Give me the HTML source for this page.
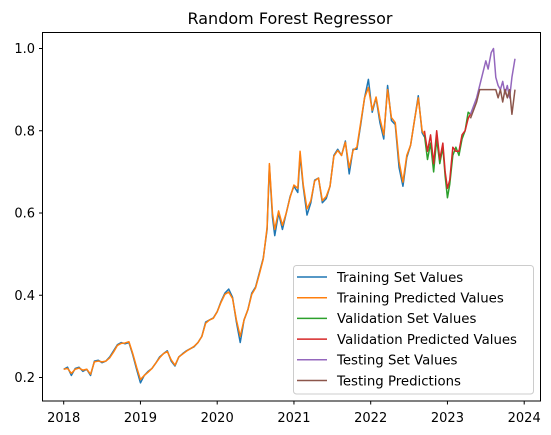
<!DOCTYPE html>
<html><head><meta charset="utf-8"><style>
html,body{margin:0;padding:0;background:#fff;}
svg{display:block;font-family:"DejaVu Sans","Liberation Sans",sans-serif;}
</style></head><body>
<svg id="chart" width="551" height="435" viewBox="0 0 551 435">
<text x="290" y="24" text-anchor="middle" font-size="16" fill="#000">Random Forest Regressor</text>
<g id="plot"></g>
<rect x="42.5" y="32.5" width="498" height="368.5" fill="none" stroke="#000" stroke-width="1"/>
<g id="xticks"></g>
<g id="yticks"></g>
<g>
<rect x="293.5" y="265.5" width="240" height="128.5" rx="3" fill="#fff" fill-opacity="0.8" stroke="#ccc"/>
<g id="legend-items"></g>
</g>
</svg>
<script>
const trainDates=[2018.00,2018.05,2018.10,2018.15,2018.20,2018.25,2018.30,2018.35,2018.40,2018.45,2018.50,2018.55,2018.60,2018.65,2018.70,2018.75,2018.80,2018.85,2018.90,2018.95,2019.00,2019.05,2019.10,2019.15,2019.20,2019.25,2019.30,2019.35,2019.40,2019.45,2019.50,2019.55,2019.60,2019.65,2019.70,2019.75,2019.80,2019.85,2019.90,2019.95,2020.00,2020.05,2020.10,2020.15,2020.20,2020.25,2020.30,2020.35,2020.40,2020.45,2020.50,2020.55,2020.60,2020.65,2020.68,2020.72,2020.75,2020.80,2020.85,2020.90,2020.95,2021.00,2021.05,2021.08,2021.12,2021.17,2021.22,2021.27,2021.32,2021.37,2021.42,2021.47,2021.52,2021.57,2021.62,2021.67,2021.72,2021.77,2021.82,2021.87,2021.92,2021.97,2022.02,2022.07,2022.12,2022.17,2022.22,2022.27,2022.32,2022.37,2022.42,2022.47,2022.52,2022.57,2022.62,2022.67,2022.70];
const trainValues=[0.220,0.225,0.205,0.222,0.225,0.215,0.220,0.205,0.240,0.242,0.236,0.240,0.250,0.265,0.280,0.285,0.282,0.285,0.255,0.220,0.187,0.205,0.215,0.222,0.235,0.250,0.258,0.265,0.240,0.228,0.250,0.258,0.265,0.270,0.275,0.285,0.300,0.335,0.340,0.345,0.360,0.385,0.405,0.415,0.395,0.335,0.285,0.340,0.365,0.405,0.420,0.455,0.490,0.560,0.715,0.590,0.545,0.600,0.560,0.600,0.640,0.665,0.650,0.740,0.665,0.595,0.625,0.680,0.685,0.625,0.635,0.665,0.740,0.755,0.740,0.775,0.695,0.755,0.755,0.815,0.880,0.925,0.845,0.880,0.820,0.780,0.910,0.825,0.815,0.710,0.665,0.735,0.765,0.825,0.885,0.795,0.785];
const trainPred=[0.220,0.222,0.210,0.220,0.223,0.218,0.220,0.208,0.238,0.240,0.238,0.240,0.248,0.262,0.278,0.283,0.284,0.287,0.258,0.225,0.195,0.205,0.213,0.222,0.235,0.248,0.258,0.263,0.243,0.230,0.250,0.257,0.264,0.270,0.276,0.285,0.300,0.332,0.340,0.344,0.360,0.383,0.402,0.408,0.392,0.340,0.300,0.340,0.365,0.402,0.418,0.452,0.488,0.565,0.720,0.600,0.560,0.605,0.570,0.600,0.638,0.668,0.660,0.750,0.670,0.610,0.630,0.678,0.685,0.630,0.640,0.665,0.738,0.752,0.740,0.772,0.710,0.752,0.760,0.820,0.880,0.905,0.850,0.882,0.830,0.790,0.900,0.832,0.820,0.725,0.675,0.740,0.765,0.825,0.880,0.800,0.790];
const valDates=[2022.70,2022.74,2022.78,2022.82,2022.86,2022.90,2022.94,2022.97,2023.00,2023.03,2023.07,2023.11,2023.15,2023.19,2023.23,2023.27,2023.30];
const valValues=[0.79,0.73,0.77,0.70,0.78,0.72,0.76,0.69,0.637,0.67,0.74,0.76,0.74,0.78,0.80,0.845,0.84];
const valPred=[0.80,0.75,0.79,0.72,0.80,0.73,0.77,0.70,0.66,0.68,0.76,0.75,0.75,0.79,0.80,0.83,0.84];
const testDates=[2023.30,2023.34,2023.38,2023.42,2023.46,2023.50,2023.53,2023.57,2023.60,2023.63,2023.66,2023.69,2023.72,2023.75,2023.78,2023.81,2023.84,2023.88];
const testValues=[0.84,0.86,0.88,0.91,0.94,0.97,0.95,0.99,1.0,0.93,0.91,0.90,0.92,0.89,0.91,0.88,0.93,0.975];
const testPred=[0.83,0.85,0.87,0.90,0.90,0.90,0.90,0.90,0.90,0.90,0.88,0.90,0.87,0.90,0.88,0.90,0.84,0.90];
const xTicks=[2018,2019,2020,2021,2022,2023,2024];
const yTicks=[0.2,0.4,0.6,0.8,1.0];
const legendLabels=["Training Set Values","Training Predicted Values","Validation Set Values","Validation Predicted Values","Testing Set Values","Testing Predictions"];
const NS="http://www.w3.org/2000/svg";
function xs(t){return 63.7+(t-2018)*76.75;}
function ys(v){return 377.5-(v-0.2)*411.25;}
const plot=document.getElementById('plot');
function drawLine(d,v,color,name){
  const p=document.createElementNS(NS,'polyline');
  p.setAttribute('points',d.map((t,i)=>xs(t).toFixed(2)+','+ys(v[i]).toFixed(2)).join(' '));
  p.setAttribute('fill','none');p.setAttribute('stroke',color);p.setAttribute('stroke-width','1.5');
  p.setAttribute('stroke-linejoin','round');
  
  
  plot.appendChild(p);
}
drawLine(trainDates,trainValues,'#1f77b4','training-set-line');
drawLine(trainDates,trainPred,'#ff7f0e','training-predicted-line');
drawLine(valDates,valValues,'#2ca02c','validation-set-line');
drawLine(valDates,valPred,'#d62728','validation-predicted-line');
drawLine(testDates,testValues,'#9467bd','testing-set-line');
drawLine(testDates,testPred,'#8c564b','testing-predictions-line');
const xg=document.getElementById('xticks');
xTicks.forEach(t=>{
  const l=document.createElementNS(NS,'line');
  l.setAttribute('x1',xs(t));l.setAttribute('x2',xs(t));l.setAttribute('y1',401);l.setAttribute('y2',404.5);l.setAttribute('stroke','#000');
  
  
  xg.appendChild(l);
  const tx=document.createElementNS(NS,'text');
  tx.setAttribute('x',xs(t));tx.setAttribute('y',422);tx.setAttribute('text-anchor','middle');tx.setAttribute('font-size','13');
  tx.textContent=t;
  
  
  xg.appendChild(tx);
});
const yg=document.getElementById('yticks');
yTicks.forEach(v=>{
  const l=document.createElementNS(NS,'line');
  l.setAttribute('x1',39);l.setAttribute('x2',42.5);l.setAttribute('y1',ys(v));l.setAttribute('y2',ys(v));l.setAttribute('stroke','#000');
  
  
  yg.appendChild(l);
  const tx=document.createElementNS(NS,'text');
  tx.setAttribute('x',35);tx.setAttribute('y',ys(v)+4.5);tx.setAttribute('text-anchor','end');tx.setAttribute('font-size','13');
  tx.textContent=v.toFixed(1);
  
  
  yg.appendChild(tx);
});
const colors=['#1f77b4','#ff7f0e','#2ca02c','#d62728','#9467bd','#8c564b'];
const lg=document.getElementById('legend-items');
legendLabels.forEach((s,i)=>{
  const y=277+i*20.7;
  const l=document.createElementNS(NS,'line');
  l.setAttribute('x1',297);l.setAttribute('x2',327);l.setAttribute('y1',y);l.setAttribute('y2',y);
  l.setAttribute('stroke',colors[i]);l.setAttribute('stroke-width','1.5');
  
  
  lg.appendChild(l);
  const tx=document.createElementNS(NS,'text');
  tx.setAttribute('x',337);tx.setAttribute('y',y+4.8);tx.setAttribute('font-size','13.3');
  tx.textContent=s;
  
  
  lg.appendChild(tx);
});
</script>
</body></html>
